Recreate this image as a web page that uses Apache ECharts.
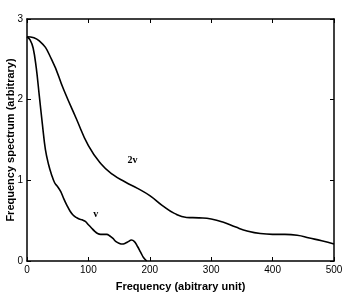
<!DOCTYPE html>
<html><head><meta charset="utf-8">
<script src="https://cdn.jsdelivr.net/npm/echarts@6/dist/echarts.min.js"></script>
<style>html,body{margin:0;padding:0;background:#fff}#c{width:346px;height:294px}</style>
</head><body><div id="c"></div>
<script>
var xTicks = [0, 100, 200, 300, 400, 500];
var yTicks = [0, 1, 2, 3];
var x2v = [0,20,40,60,80,100,120,140,160,180,200,220,240,260,280,300,320,340,360,380,400,420,440,460,480,500];
var y2v = [2.78,2.73,2.50,2.12,1.77,1.43,1.21,1.07,0.98,0.90,0.81,0.69,0.59,0.54,0.535,0.52,0.48,0.42,0.37,0.34,0.33,0.33,0.32,0.285,0.25,0.21];
var xv = [0,5,10,15,20,25,30,35,40,45,50,55,60,65,70,75,80,85,90,95,100,105,110,115,120,125,130,135,140,145,150,155,160,165,170,175,180,185,190,195];
var yv = [2.78,2.74,2.64,2.40,2.05,1.70,1.38,1.20,1.07,0.97,0.92,0.86,0.77,0.69,0.62,0.57,0.54,0.52,0.51,0.49,0.45,0.41,0.37,0.34,0.33,0.33,0.33,0.31,0.28,0.24,0.22,0.21,0.22,0.24,0.26,0.24,0.18,0.11,0.04,0.0];
var labels = [{name:'2v', x:172, y:1.25}, {name:'v', x:112, y:0.58}];

function zip(a,b){return a.map(function(v,i){return [v,b[i]];});}
var chart = echarts.init(document.getElementById('c'), null, {renderer:'canvas'});
var axLine = {show:true, onZero:false, lineStyle:{color:'#000', width:1.5}};
var tickIn = {show:true, inside:true, length:4, lineStyle:{color:'#000', width:1}};
var lblFont = {color:'#000', fontSize:10, fontFamily:'Liberation Sans, Arial, sans-serif'};
chart.setOption({
  animation:false,
  grid:{left:27, right:12, top:19, bottom:33, containLabel:false, outerBoundsMode:'none'},
  xAxis:[
    {type:'value', min:0, max:500, interval:100, axisLine:axLine, axisTick:tickIn, splitLine:{show:false},
     axisLabel:Object.assign({margin:4}, lblFont),
     name:'Frequency (abitrary unit)', nameLocation:'middle', nameGap:20,
     nameTextStyle:{color:'#000', fontSize:11, fontWeight:'bold', fontFamily:'Liberation Sans, Arial, sans-serif'}},
    {type:'value', position:'top', min:0, max:500, interval:100, axisLine:axLine, axisTick:tickIn, axisLabel:{show:false}, splitLine:{show:false}}
  ],
  yAxis:[
    {type:'value', min:0, max:3, interval:1, axisLine:axLine, axisTick:tickIn, splitLine:{show:false},
     axisLabel:Object.assign({margin:4}, lblFont),
     name:'Frequency spectrum (arbitrary)', nameLocation:'middle', nameGap:11, nameMoveOverlap:false,
     nameTextStyle:{color:'#000', fontSize:11, fontWeight:'bold', fontFamily:'Liberation Sans, Arial, sans-serif'}},
    {type:'value', position:'right', min:0, max:3, interval:1, axisLine:axLine, axisTick:tickIn, axisLabel:{show:false}, splitLine:{show:false}}
  ],
  series:[
    {type:'line', data:zip(x2v,y2v), smooth:0.5, showSymbol:false, lineStyle:{color:'#000', width:1.6},
     markPoint:{symbol:'circle', symbolSize:0, label:{show:true, formatter:'{b}', color:'#000', fontSize:10, fontWeight:'bold', fontFamily:'Liberation Serif, Times New Roman, serif'},
       data:labels.map(function(l){return {name:l.name, coord:[l.x,l.y]};})}},
    {type:'line', data:zip(xv,yv), smooth:0.4, showSymbol:false, lineStyle:{color:'#000', width:1.6}}
  ]
});
</script></body></html>
